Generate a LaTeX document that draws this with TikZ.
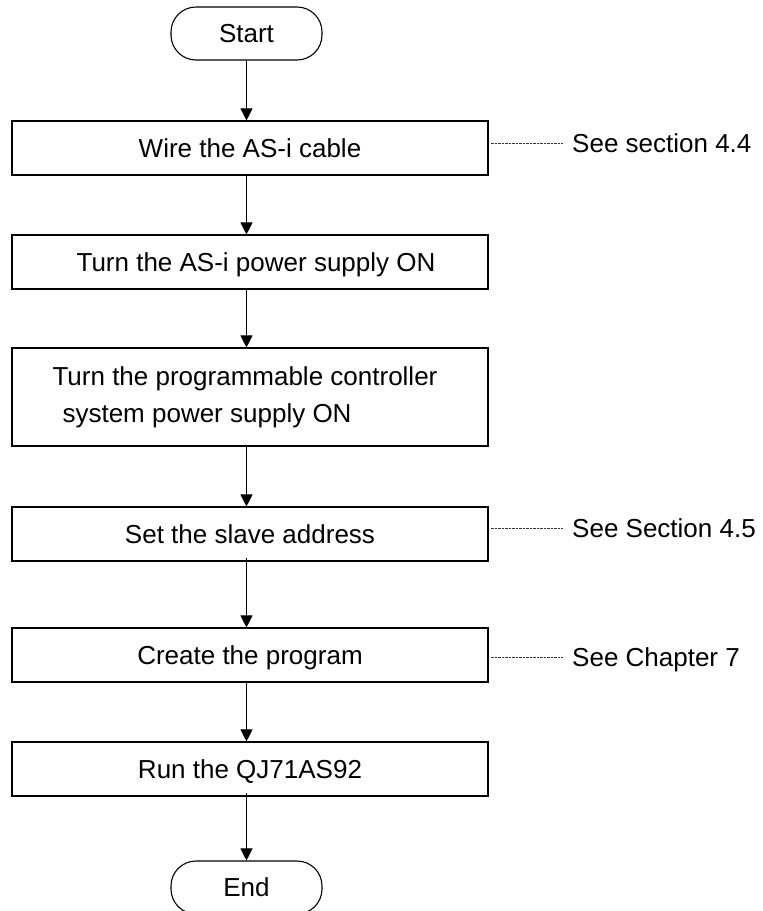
\documentclass[tikz,border=0pt]{standalone}
\usepackage{fontspec}
\setmainfont{Liberation Sans}
\usetikzlibrary{arrows.meta}
\begin{document}
\begin{tikzpicture}[x=1pt,y=-1pt,
  every node/.style={font=\fontsize{26}{37}\selectfont},
  stepbox/.style={draw,line width=1.1pt,rectangle,minimum width=476pt,
    minimum height=54pt,inner sep=0pt,text height=18.6pt,text depth=0pt},
  termbox/.style={draw,line width=1.1pt,rectangle,rounded corners=25pt,
    minimum width=151pt,minimum height=53pt,inner sep=0pt,
    text height=18.6pt,text depth=0pt},
  note/.style={anchor=west,inner sep=0pt,text height=18.6pt,text depth=0pt},
  flow/.style={line width=0.9pt,-{Triangle[length=12pt,width=12pt]}},
  leader/.style={line width=0.7pt,dash pattern=on 0.7pt off 0.7pt,black!80}]
\clip (0,0) rectangle (763,911);
\fill[white] (0,0) rectangle (763,911);

% terminals and process steps
\node[termbox] (start) at (246.5,33.5) {Start};
\node[stepbox] (b1) at (250,148) {Wire the AS-i cable};
\node[stepbox] (b2) at (250,262) {\hspace*{12pt}Turn the AS-i power supply ON};
\node[stepbox,minimum height=98pt,align=left,text height=,text depth=] (b3) at (250,397)
  {Turn the programmable controller\hspace*{10pt}\\\hspace*{10pt}system power supply ON};
\node[stepbox] (b4) at (250,534) {Set the slave address};
\node[stepbox] (b5) at (250,655) {Create the program};
\node[stepbox] (b6) at (250,769) {Run the QJ71AS92};
\node[termbox] (end) at (246.5,887.5) {End};

% references
\node[note] (r1) at (572,143) {See section 4.4};
\node[note] (r4) at (572,528) {See Section 4.5};
\node[note] (r5) at (572,657) {See Chapter 7};
\draw[leader] (b1.east |- r1.west) ++(2,0) -- ([xshift=-9pt]r1.west);
\draw[leader] (b4.east |- r4.west) ++(2,0) -- ([xshift=-9pt]r4.west);
\draw[leader] (b5.east |- r5.west) ++(2,0) -- ([xshift=-9pt]r5.west);

% flow arrows
\draw[flow] (start.south) -- (start.south |- b1.north);
\draw[flow] (b1.south -| start) -- (b2.north -| start);
\draw[flow] ([yshift=2pt]b2.south -| start) -- (b3.north -| start);
\draw[flow] ([yshift=2pt]b3.south -| start) -- (b4.north -| start);
\draw[flow] ([yshift=4pt]b4.south -| start) -- (b5.north -| start);
\draw[flow] ([yshift=2pt]b5.south -| start) -- (b6.north -| start);
\draw[flow] ([yshift=4pt]b6.south -| start) -- (end.north);
\end{tikzpicture}
\end{document}
